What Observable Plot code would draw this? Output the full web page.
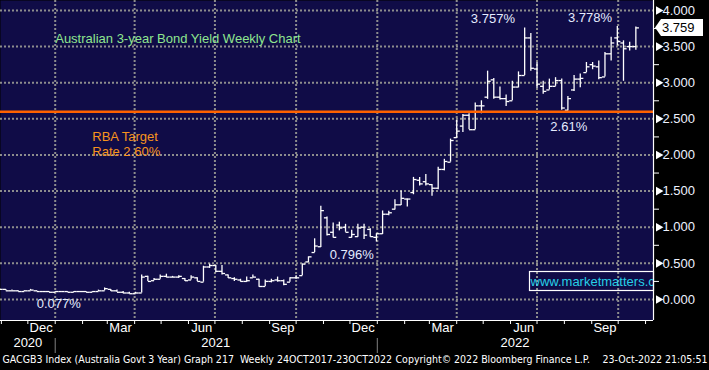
<!DOCTYPE html>
<html><head><meta charset="utf-8">
<script src="https://cdn.jsdelivr.net/npm/d3@7"></script>
<script src="https://cdn.jsdelivr.net/npm/@observablehq/plot@0.6"></script>
<style>
html,body{margin:0;padding:0;background:#000;}
#chart{position:relative;width:709px;height:370px;overflow:hidden;background:#000;}
#chart svg text{white-space:pre;}
</style></head><body><div id="chart"></div>
<script>
// ---- data (weekly bars, Friday week ending) ----
const firstWeek = "2020-10-30";
const lastWeek = "2022-10-21";
const open = [
0.14,0.14,0.12,0.12,0.11,0.12,0.12,0.11,0.11,0.10,
0.11,0.11,0.10,0.11,0.11,0.10,0.11,0.12,0.14,0.12,
0.10,0.09,0.08,0.09,0.32,0.26,0.28,0.32,0.31,0.31,
0.29,0.27,0.30,0.24,0.45,0.47,0.39,0.34,0.29,0.27,
0.25,0.30,0.28,0.18,0.25,0.27,0.26,0.24,0.30,0.33,
0.52,0.65,0.73,1.13,0.93,1.03,1.00,0.86,0.87,1.00,
0.97,0.86,0.91,1.18,1.25,1.31,1.39,1.48,1.65,1.63,
1.59,1.54,1.80,1.90,2.24,2.40,2.55,2.35,2.68,2.80,
3.04,2.80,2.78,2.75,2.94,3.10,3.62,3.19,2.95,2.90,
2.95,3.03,2.62,2.90,3.05,3.14,3.25,3.22,3.08,3.40,
3.62,3.55,3.50,3.50];
const high = [
0.15,0.14,0.13,0.12,0.12,0.14,0.12,0.11,0.11,0.11,
0.11,0.11,0.11,0.11,0.11,0.11,0.13,0.16,0.14,0.13,
0.11,0.10,0.10,0.34,0.32,0.29,0.34,0.35,0.32,0.33,
0.29,0.33,0.30,0.46,0.49,0.47,0.47,0.34,0.30,0.28,
0.31,0.34,0.28,0.27,0.28,0.31,0.27,0.30,0.33,0.49,
0.59,0.84,1.29,1.14,1.06,1.07,1.04,0.96,1.04,1.04,
0.98,0.91,1.225,1.22,1.38,1.50,1.39,1.69,1.69,1.73,
1.59,1.83,1.94,2.22,2.48,2.56,2.57,2.72,2.75,3.16,
3.06,2.94,2.83,3.02,3.15,3.757,3.68,3.28,3.02,3.05,
3.07,3.05,2.81,3.10,3.12,3.28,3.28,3.30,3.42,3.63,
3.778,3.58,3.56,3.77];
const low = [
0.13,0.12,0.12,0.11,0.11,0.12,0.11,0.10,0.10,0.10,
0.10,0.10,0.10,0.10,0.10,0.10,0.11,0.12,0.11,0.10,
0.08,0.077,0.08,0.09,0.25,0.26,0.28,0.30,0.30,0.29,
0.25,0.27,0.25,0.24,0.43,0.37,0.34,0.29,0.25,0.24,
0.24,0.30,0.17,0.18,0.23,0.24,0.19,0.24,0.28,0.33,
0.51,0.65,0.72,0.88,0.85,0.95,0.93,0.85,0.86,0.83,
0.86,0.796,0.90,1.16,1.24,1.30,1.28,1.45,1.57,1.57,
1.43,1.52,1.78,1.90,2.23,2.31,2.35,2.35,2.57,2.77,
2.77,2.76,2.67,2.75,2.93,3.10,3.16,2.92,2.84,2.90,
2.95,2.62,2.61,2.88,2.93,3.14,3.18,3.04,3.08,3.30,
3.51,3.02,3.44,3.45];
const close = [
0.14,0.12,0.12,0.11,0.12,0.13,0.11,0.11,0.10,0.11,
0.11,0.10,0.11,0.11,0.10,0.11,0.12,0.15,0.12,0.10,
0.09,0.08,0.09,0.31,0.25,0.28,0.32,0.31,0.31,0.32,
0.26,0.31,0.25,0.45,0.47,0.39,0.36,0.30,0.28,0.25,
0.26,0.31,0.18,0.25,0.26,0.26,0.21,0.30,0.30,0.49,
0.59,0.74,1.23,0.90,0.86,0.99,0.93,0.90,0.99,0.89,
0.87,0.91,1.18,1.20,1.31,1.40,1.39,1.66,1.60,1.60,
1.54,1.80,1.91,2.20,2.33,2.55,2.35,2.68,2.68,3.02,
2.80,2.78,2.74,2.94,3.10,3.62,3.20,2.98,2.88,2.95,
3.03,2.65,2.78,3.05,3.06,3.22,3.23,3.07,3.40,3.55,
3.57,3.47,3.50,3.759];

const yTicks = [0, 0.5, 1, 1.5, 2, 2.5, 3, 3.5, 4];
const yMinorTicks = [0.25, 0.75, 1.25, 1.75, 2.25, 2.75, 3.25, 3.75];
const monthLabels = ["Dec", "Mar", "Jun", "Sep", "Dec", "Mar", "Jun", "Sep"];
const monthLabelDates = ["2020-12-16","2021-03-16","2021-06-16","2021-09-16","2021-12-16","2022-03-16","2022-06-16","2022-09-16"];
const yearLabels = ["2020", "2021", "2022"];
const yearLabelDates = ["2020-12-01", "2021-07-02", "2022-06-06"];
const yearStarts = ["2021-01-01", "2022-01-01"];
const rbaTarget = 2.60;

const titleText = "Australian 3-year Bond Yield Weekly Chart";
const rbaText = "RBA Target\nRate 2.60%";
const annotations = [
  {label: "3.757%", date: "2022-05-12", value: 3.889},
  {label: "3.778%", date: "2022-08-30", value: 3.899},
  {label: "2.61%",  date: "2022-08-06", value: 2.394},
  {label: "0.796%", date: "2021-12-03", value: 0.619},
  {label: "0.077%", date: "2021-01-05", value: -0.06}
];
const footerLeft = "GACGB3 Index (Australia Govt 3 Year) Graph 217  Weekly 24OCT2017-23OCT2022";
const footerMid = "Copyright\u00A9 2022 Bloomberg Finance L.P.";
const footerRight = "23-Oct-2022 21:05:51";
const watermark = "www.marketmatters.com";

// ---- build table ----
const weeks = d3.utcFriday.range(new Date(firstWeek), d3.utcDay.offset(new Date(lastWeek), 1));
const bars = weeks.map((date, i) => ({date, open: open[i], high: high[i], low: low[i], close: close[i]}));
const lastClose = close[close.length - 1];

const xDomain = [new Date("2020-10-31"), new Date("2022-11-10")];
const yDomain = [-0.2907, 4.138];
const navy = "#100c47";
const gridColor = "#8d8d8d";
const halfWeek = 3.5 * 864e5;

const tagMark = (index, scales, values, dimensions) => {
  const ns = "http://www.w3.org/2000/svg";
  const g = document.createElementNS(ns, "g");
  g.setAttribute("text-anchor", "start");
  const xr = dimensions.width - dimensions.marginRight;
  // value tag
  const y = scales.y(lastClose);
  const p = document.createElementNS(ns, "path");
  p.setAttribute("d", `M${xr + 2},${y} L${xr + 8},${y - 8.5} L${xr + 50},${y - 8.5} L${xr + 50},${y + 8.5} L${xr + 8},${y + 8.5} Z`);
  p.setAttribute("fill", "#fff");
  g.appendChild(p);
  const t = document.createElementNS(ns, "text");
  t.setAttribute("x", xr + 9);
  t.setAttribute("y", y);
  t.setAttribute("dy", "0.35em");
  t.setAttribute("fill", "#000");
  t.setAttribute("font-size", "13");
  t.setAttribute("text-anchor", "start");
  t.textContent = d3.format(".3f")(lastClose);
  g.appendChild(t);
  // watermark box
  const bx = xr - 124, by = dimensions.height - dimensions.marginBottom - 49, bw = 124, bh = 20;
  const clip = document.createElementNS(ns, "clipPath");
  clip.setAttribute("id", "wmclip");
  const cr = document.createElementNS(ns, "rect");
  cr.setAttribute("x", bx); cr.setAttribute("y", by); cr.setAttribute("width", bw); cr.setAttribute("height", bh);
  clip.appendChild(cr);
  g.appendChild(clip);
  const r = document.createElementNS(ns, "rect");
  r.setAttribute("x", bx + 0.5); r.setAttribute("y", by + 0.5); r.setAttribute("width", bw); r.setAttribute("height", bh - 1);
  r.setAttribute("fill", "none"); r.setAttribute("stroke", "#fff"); r.setAttribute("stroke-width", "1.2");
  g.appendChild(r);
  const w = document.createElementNS(ns, "text");
  w.setAttribute("x", bx + 1.5);
  w.setAttribute("y", by + bh / 2);
  w.setAttribute("dy", "0.35em");
  w.setAttribute("fill", "#27cfe6");
  w.setAttribute("font-size", "13");
  w.setAttribute("text-anchor", "start");
  w.setAttribute("clip-path", "url(#wmclip)");
  w.textContent = watermark;
  g.appendChild(w);
  return g;
};

const chart = Plot.plot({
  width: 709,
  height: 370,
  marginLeft: 0,
  marginRight: 56,
  marginTop: 0,
  marginBottom: 50,
  style: {background: "#000", color: "#fff", fontFamily: "'Liberation Sans', Arial, sans-serif", fontSize: "13px"},
  x: {type: "utc", domain: xDomain},
  y: {domain: yDomain},
  marks: [
    Plot.frame({fill: navy, stroke: "none"}),
    Plot.gridY(yTicks, {stroke: gridColor, strokeOpacity: 1, strokeWidth: 2, strokeDasharray: "2,2"}),
    Plot.gridX(d3.utcMonth.every(3).range(...xDomain), {stroke: gridColor, strokeOpacity: 1, strokeWidth: 2, strokeDasharray: "2,2"}),
    Plot.ruleX(bars, {x: "date", y1: "low", y2: "high", stroke: "#fff", strokeWidth: 1.3, clip: true}),
    Plot.link(bars, {x1: d => new Date(+d.date - halfWeek), x2: "date", y1: "open", y2: "open", stroke: "#fff", strokeWidth: 1.3, clip: true}),
    Plot.link(bars, {x1: "date", x2: d => new Date(+d.date + halfWeek), y1: "close", y2: "close", stroke: "#fff", strokeWidth: 1.3, clip: true}),
    Plot.ruleY([rbaTarget], {stroke: "#ff6200", strokeWidth: 2.5}),
    // axes lines
    Plot.ruleY([yDomain[0]], {stroke: "#fff", strokeWidth: 1.2}),
    Plot.ruleX([xDomain[1]], {stroke: "#fff", strokeWidth: 1.2}),
    // right axis
    Plot.axisY(yTicks, {anchor: "right", tickSize: 0, tickPadding: 9, tickFormat: d3.format(".3f"), color: "#eef2ff", fontSize: 13, label: null}),
    Plot.axisY(yMinorTicks, {anchor: "right", tickSize: 5, tickFormat: () => "", color: "#fff", label: null}),
    Plot.dot(yTicks, {y: d => d, frameAnchor: "right", symbol: "triangle", r: 3.2, rotate: 90, dx: 5, fill: "#fff", stroke: null}),
    // bottom axis
    Plot.axisX(d3.utcMonth.range(...xDomain), {tickSize: 4, tickFormat: () => "", color: "#fff", label: null}),
    Plot.text(monthLabels, {x: (d, i) => new Date(monthLabelDates[i]), text: d => d, frameAnchor: "bottom", dy: 11, fill: "#fff", fontSize: 13}),
    Plot.text(yearLabels, {x: (d, i) => new Date(yearLabelDates[i]), text: d => d, frameAnchor: "bottom", dy: 26, fill: "#fff", fontSize: 13}),
    Plot.ruleX(yearStarts.map(d => new Date(d)), {x: d => d, stroke: "#808080", insetTop: 338, insetBottom: -33}),
    // annotations
    Plot.text([titleText], {x: () => new Date("2021-01-01"), y: () => 3.608, text: d => d, textAnchor: "start", fill: "#8fe68f", fontSize: 13}),
    Plot.text([rbaText], {x: () => new Date("2021-02-12"), y: () => 2.16, text: d => d, textAnchor: "start", fill: "#f7941d", fontSize: 13, lineHeight: 1.2}),
    Plot.text(annotations, {x: d => new Date(d.date), y: "value", text: "label", fill: "#e4ebff", fontSize: 13}),
    // footer
    Plot.text([footerLeft], {frameAnchor: "bottom-left", dx: 2, dy: 42, text: d => d, textAnchor: "start", fill: "#fff", fontSize: 10.5, fontFamily: "'Liberation Sans Narrow', 'DejaVu Sans Condensed', 'Arial Narrow', sans-serif"}),
    Plot.text([footerMid], {frameAnchor: "bottom-left", dx: 395, dy: 42, text: d => d, textAnchor: "start", fill: "#fff", fontSize: 10.5, fontFamily: "'Liberation Sans Narrow', 'DejaVu Sans Condensed', 'Arial Narrow', sans-serif"}),
    Plot.text([footerRight], {frameAnchor: "bottom-right", dx: 54, dy: 42, text: d => d, textAnchor: "end", fill: "#fff", fontSize: 10.5, fontFamily: "'Liberation Sans Narrow', 'DejaVu Sans Condensed', 'Arial Narrow', sans-serif"}),
    tagMark
  ]
});
document.getElementById("chart").appendChild(chart);
</script>
</body></html>
